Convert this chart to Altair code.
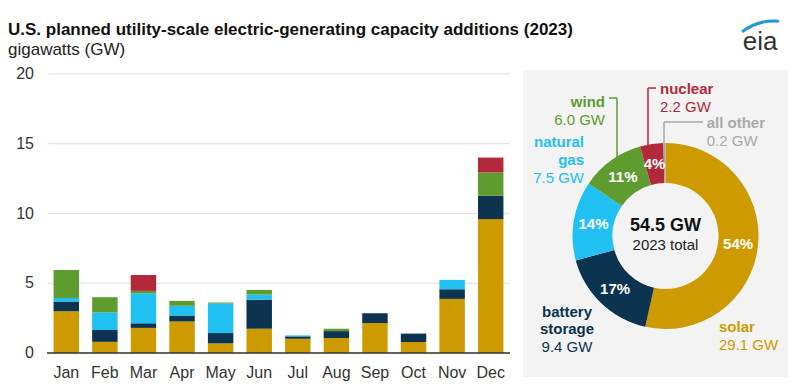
import altair as alt
import pandas as pd

FONT = "Liberation Sans"

# ---------------- data ----------------
months = ["Jan", "Feb", "Mar", "Apr", "May", "Jun", "Jul", "Aug", "Sep", "Oct", "Nov", "Dec"]
solar = [3.0, 0.8, 1.8, 2.26, 0.69, 1.74, 1.02, 1.07, 2.14, 0.79, 3.88, 9.6]
battery = [0.7, 0.85, 0.33, 0.43, 0.74, 2.09, 0.17, 0.5, 0.71, 0.6, 0.69, 1.67]
gas = [0.25, 1.25, 2.15, 0.69, 2.12, 0.36, 0.07, 0.0, 0.0, 0.0, 0.67, 0.0]
wind = [2.0, 1.1, 0.17, 0.36, 0.07, 0.33, 0.0, 0.17, 0.0, 0.0, 0.0, 1.67]
nuclear = [0.0, 0.0, 1.14, 0.0, 0.0, 0.0, 0.0, 0.0, 0.0, 0.0, 0.0, 1.07]

series_names = ["solar", "battery storage", "natural gas", "wind", "nuclear", "all other"]
series_colors = ["#CD9B00", "#0C3350", "#21C0F2", "#5E9C30", "#B3293B", "#A8A8A8"]

donut_gw = [29.1, 9.4, 7.5, 6.0, 2.2, 0.2]
donut_pct = ["54%", "17%", "14%", "11%", "4%", ""]
total_gw = 54.5
total_label = "2023 total"

y_ticks = [0, 5, 10, 15, 20]

title_text = "U.S. planned utility-scale electric-generating capacity additions (2023)"
subtitle_text = "gigawatts (GW)"
logo_text = "eia"

# ---------------- tables ----------------
rows = []
for i, m in enumerate(months):
    for k, vals in enumerate([solar, battery, gas, wind, nuclear]):
        rows.append({"month": m, "source": series_names[k], "gw": vals[i], "ord": k})
bars_df = pd.DataFrame(rows)

donut_df = pd.DataFrame({
    "source": series_names,
    "gw": donut_gw,
    "pct": donut_pct,
    "ord": list(range(len(series_names))),
})
ticks_df = pd.DataFrame({"v": y_ticks})
months_df = pd.DataFrame({"month": months})
one = pd.DataFrame({"a": [0]})

# ---------------- scales ----------------
x_scale = alt.Scale(domain=months, range=[39, 502], paddingInner=0.34, paddingOuter=0.17)
y_scale = alt.Scale(domain=[0, 20], range=[345, 66], nice=False, zero=True)
color_scale = alt.Scale(domain=series_names, range=series_colors)

# ---------------- layers ----------------
panel_bg = alt.Chart(one).mark_rect(color="#F3F3F3").encode(
    x=alt.value(515), x2=alt.value(780), y=alt.value(62), y2=alt.value(369)
)

grid = alt.Chart(ticks_df).mark_rule(color="#DEDEDE", strokeWidth=1).encode(
    y=alt.Y("v:Q", scale=y_scale, axis=None),
    x=alt.value(40), x2=alt.value(502),
)

bars = alt.Chart(bars_df).mark_bar().encode(
    x=alt.X("month:N", scale=x_scale, axis=None),
    y=alt.Y("gw:Q", stack="zero", scale=y_scale, axis=None),
    color=alt.Color("source:N", scale=color_scale, legend=None),
    order=alt.Order("ord:Q", sort="ascending"),
)

baseline = alt.Chart(pd.DataFrame({"v": [0]})).mark_rule(color="#333333", strokeWidth=1.5).encode(
    y=alt.Y("v:Q", scale=y_scale, axis=None),
    x=alt.value(39), x2=alt.value(502),
)

y_labels = alt.Chart(ticks_df).mark_text(
    align="right", baseline="middle", fontSize=16, color="#333333", font=FONT
).encode(
    y=alt.Y("v:Q", scale=y_scale, axis=None),
    x=alt.value(26),
    text=alt.Text("v:Q"),
)

x_labels = alt.Chart(months_df).mark_text(
    align="center", baseline="alphabetic", fontSize=16, color="#333333", font=FONT
).encode(
    x=alt.X("month:N", scale=x_scale, axis=None),
    y=alt.value(370),
    text=alt.Text("month:N"),
)

CX, CY = 657.5, 228

donut = alt.Chart(donut_df).mark_arc(radius=93, radius2=53).encode(
    theta=alt.Theta("gw:Q", stack=True),
    color=alt.Color("source:N", scale=color_scale, legend=None),
    order=alt.Order("ord:Q", sort="ascending"),
    x=alt.value(CX), y=alt.value(CY),
)

pct_labels = alt.Chart(donut_df).mark_text(
    radius=73, fontSize=15, fontWeight="bold", color="white", font=FONT,
    align="center", baseline="middle",
).encode(
    theta=alt.Theta("gw:Q", stack=True),
    order=alt.Order("ord:Q", sort="ascending"),
    text=alt.Text("pct:N"),
    x=alt.value(CX), y=alt.value(CY),
)


def label(text, x, y, color, bold=False, align="left", size=15, baseline="middle"):
    return alt.Chart(one).mark_text(
        text=text, align=align, baseline=baseline, fontSize=size,
        fontWeight="bold" if bold else "normal", color=color, font=FONT,
    ).encode(x=alt.value(x), y=alt.value(y))


def rule(x, y, x2, y2, color):
    return alt.Chart(one).mark_rule(color=color, strokeWidth=1.5).encode(
        x=alt.value(x), y=alt.value(y), x2=alt.value(x2), y2=alt.value(y2)
    )


gw = [f"{v:.1f} GW" for v in donut_gw]
c_solar, c_batt, c_gas, c_wind, c_nuc, c_oth = series_colors

annotations = [
    label(f"{total_gw:.1f} GW", CX, 218, "#111111", bold=True, align="center", size=18),
    label(total_label, CX, 237, "#222222", align="center", size=15),
    # wind
    label("wind", 597, 93.7, c_wind, bold=True, align="right"),
    label(gw[3], 597, 112, c_wind, align="right"),
    rule(601, 90, 609, 90, c_wind),
    rule(609, 90, 609, 149, c_wind),
    # nuclear
    label("nuclear", 652, 81.3, c_nuc, bold=True),
    label(gw[4], 652, 99, c_nuc),
    rule(640, 80, 648, 80, c_nuc),
    rule(640, 80, 640, 139, c_nuc),
    # all other
    label("all other", 698.7, 115.3, "#A9A9A9", bold=True),
    label(gw[5], 698.7, 133, "#A9A9A9"),
    rule(656, 114, 695, 114, "#A9A9A9"),
    rule(656, 114, 656, 135, "#A9A9A9"),
    # natural gas
    label("natural", 576, 133.7, c_gas, bold=True, align="right"),
    label("gas", 576, 152, c_gas, bold=True, align="right"),
    label(gw[2], 576, 170.3, c_gas, align="right"),
    # battery storage
    label("battery", 559, 303.7, c_batt, bold=True, align="center"),
    label("storage", 559, 321, c_batt, bold=True, align="center"),
    label(gw[1], 559, 339, c_batt, align="center"),
    # solar
    label("solar", 711, 318.7, c_solar, bold=True),
    label(gw[0], 711, 337, c_solar),
    # title block
    label(title_text, 0, 27, "#111111", bold=True, size=17, baseline="alphabetic"),
    label(subtitle_text, 0, 47, "#222222", size=17, baseline="alphabetic"),
    # logo
    label(logo_text, 734.7, 41.5, "#333333", size=26, baseline="alphabetic"),
]

swoosh = alt.Chart(one).mark_arc(
    radius=54.5, radius2=51.5, theta=5.63, theta2=6.37, color="#1E9BD7"
).encode(x=alt.value(766.3), y=alt.value(66))

chart = alt.layer(
    panel_bg, grid, bars, baseline, y_labels, x_labels, donut, pct_labels, swoosh, *annotations
).properties(
    width=784, height=374,
    autosize=alt.AutoSizeParams(type="none"),
    padding=0,
).configure_view(stroke=None)

chart.save("out.html", embed_options={"renderer": "svg", "actions": False})
